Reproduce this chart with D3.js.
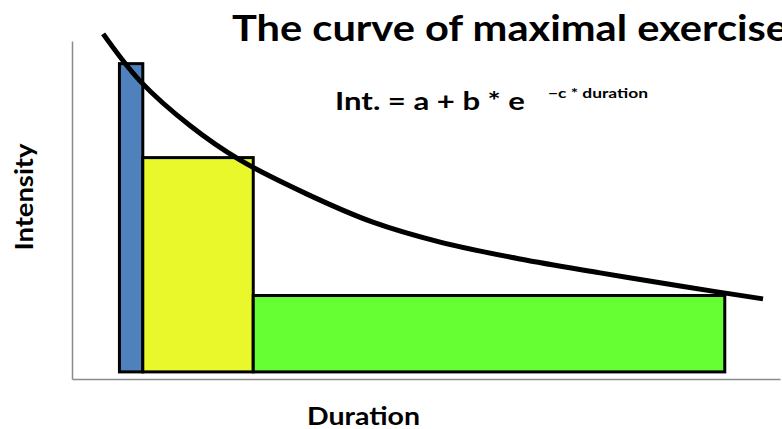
<!DOCTYPE html>
<html>
<head>
<meta charset="utf-8">
<script src="https://cdn.jsdelivr.net/npm/d3@7"></script>
<style>
  body { margin: 0; background: #fff; }
  text { font-family: Lato, "Open Sans", sans-serif; font-weight: bold; fill: #000; }
</style>
</head>
<body>
<div class="canvas"></div>
<script>
// bars: start / end duration and intensity (arbitrary units)
const barNames = ['short', 'medium', 'long'];
const barStart = [6.7, 10.0, 25.6];
const barEnd = [10.0, 25.6, 92.2];
const barIntensity = [93.3, 65.5, 24.7];
const barBase = 2.1;
const barColors = ['#4f81bd', '#e8f82a', '#66ff33'];

// curve of maximal exercise
const curveDuration = [4.4, 9.6, 16.7, 23.7, 33.2, 42.5, 52.0, 63.3, 74.6, 85.9, 97.6];
const curveIntensity = [102.1, 88.2, 74.9, 64.8, 54.7, 46.4, 40.5, 35.5, 31.4, 27.5, 23.7];

const margin = { top: 41, right: 2, bottom: 50, left: 72 };
const graphWidth = 782 - margin.left - margin.right;
const graphHeight = 429 - margin.top - margin.bottom;

const svg = d3.select('.canvas')
  .append('svg')
  .attr('width', 782)
  .attr('height', 429);

const graph = svg.append('g')
  .attr('transform', `translate(${margin.left}, ${margin.top})`);

const x = d3.scaleLinear().domain([0, 100]).range([0, graphWidth]);
const y = d3.scaleLinear().domain([0, 100]).range([graphHeight, 0]);

// axes (no ticks)
const xAxisGroup = graph.append('g')
  .attr('transform', `translate(0, ${graphHeight})`)
  .call(d3.axisBottom(x).ticks(0).tickSizeOuter(0));
const yAxisGroup = graph.append('g')
  .call(d3.axisLeft(y).ticks(0).tickSizeOuter(0));
[xAxisGroup, yAxisGroup].forEach(g => g.select('.domain')
  .attr('stroke', '#8a8a8a')
  .attr('stroke-width', 1.5));

// bars
graph.selectAll('rect.bar')
  .data(barNames)
  .enter()
  .append('rect')
    .attr('class', 'bar')
    .attr('x', (d, i) => x(barStart[i]))
    .attr('width', (d, i) => x(barEnd[i]) - x(barStart[i]))
    .attr('y', (d, i) => y(barIntensity[i]))
    .attr('height', (d, i) => y(barBase) - y(barIntensity[i]))
    .attr('fill', (d, i) => barColors[i])
    .attr('stroke', '#000')
    .attr('stroke-width', 3);

// curve
const line = d3.line()
  .x(i => x(curveDuration[i]))
  .y(i => y(curveIntensity[i]))
  .curve(d3.curveCatmullRom.alpha(0.5));

graph.append('path')
  .attr('d', line(d3.range(curveDuration.length)))
  .attr('fill', 'none')
  .attr('stroke', '#000')
  .attr('stroke-width', 5);

// texts
svg.append('text')
  .text('The curve of maximal exercise')
  .attr('x', 232)
  .attr('y', 41)
  .attr('font-size', 36)
  .attr('textLength', 556)
  .attr('lengthAdjust', 'spacingAndGlyphs');

svg.append('text')
  .text('Int. = a + b * e')
  .attr('x', 335)
  .attr('y', 110)
  .attr('font-size', 25)
  .attr('textLength', 190)
  .attr('lengthAdjust', 'spacingAndGlyphs');

svg.append('text')
  .text('\u2212c * duration')
  .attr('x', 548)
  .attr('y', 98)
  .attr('font-size', 14)
  .attr('textLength', 100)
  .attr('lengthAdjust', 'spacingAndGlyphs');

svg.append('text')
  .text('Intensity')
  .attr('transform', 'translate(33, 197) rotate(-90)')
  .attr('text-anchor', 'middle')
  .attr('font-size', 24)
  .attr('textLength', 107)
  .attr('lengthAdjust', 'spacingAndGlyphs');

svg.append('text')
  .text('Duration')
  .attr('x', 307)
  .attr('y', 425)
  .attr('font-size', 24)
  .attr('textLength', 113)
  .attr('lengthAdjust', 'spacingAndGlyphs');
</script>
</body>
</html>
